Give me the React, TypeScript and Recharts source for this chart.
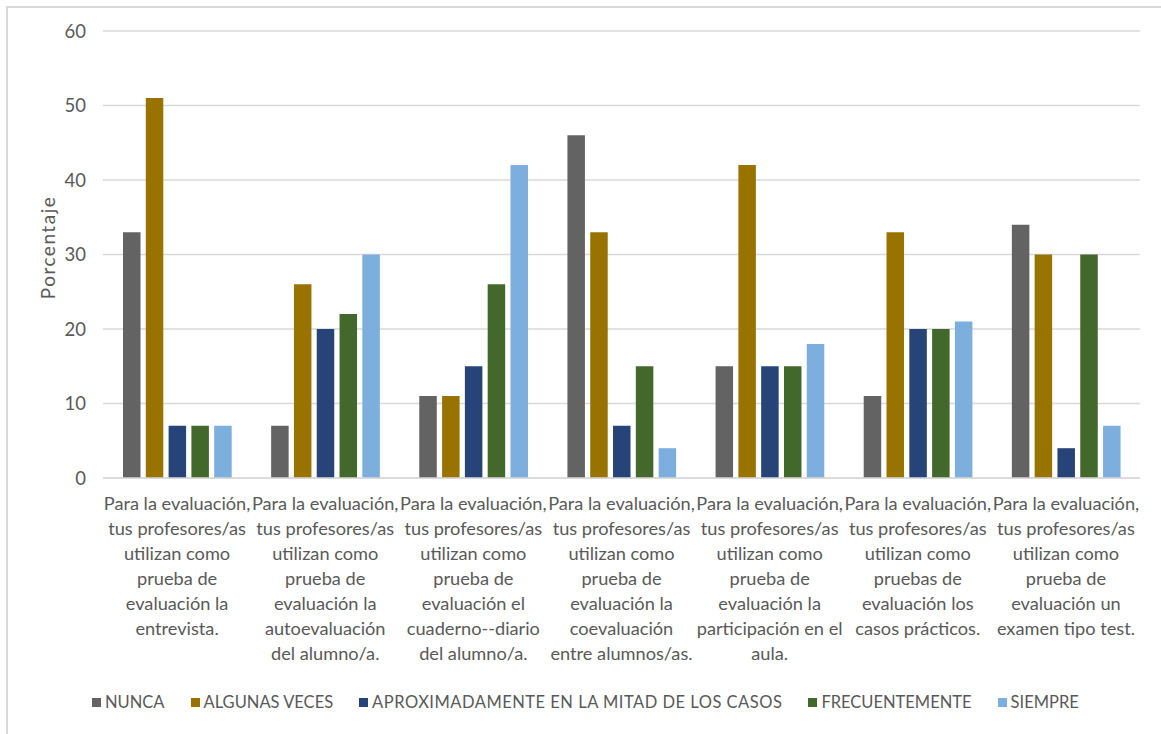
import React from 'react';
import { BarChart, Bar, XAxis, YAxis, CartesianGrid, Legend } from 'recharts';

// Category tick labels, one entry per line of text
const categoryLines: string[][] = [
  ['Para la evaluación,', 'tus profesores/as', 'utilizan como', 'prueba de', 'evaluación la', 'entrevista.'],
  ['Para la evaluación,', 'tus profesores/as', 'utilizan como', 'prueba de', 'evaluación la', 'autoevaluación', 'del alumno/a.'],
  ['Para la evaluación,', 'tus profesores/as', 'utilizan como', 'prueba de', 'evaluación el', 'cuaderno--diario', 'del alumno/a.'],
  ['Para la evaluación,', 'tus profesores/as', 'utilizan como', 'prueba de', 'evaluación la', 'coevaluación', 'entre alumnos/as.'],
  ['Para la evaluación,', 'tus profesores/as', 'utilizan como', 'prueba de', 'evaluación la', 'participación en el', 'aula.'],
  ['Para la evaluación,', 'tus profesores/as', 'utilizan como', 'pruebas de', 'evaluación los', 'casos prácticos.'],
  ['Para la evaluación,', 'tus profesores/as', 'utilizan como', 'prueba de', 'evaluación un', 'examen tipo test.'],
];

const seriesNames = [
  'NUNCA',
  'ALGUNAS VECES',
  'APROXIMADAMENTE EN LA MITAD DE LOS CASOS',
  'FRECUENTEMENTE',
  'SIEMPRE',
];
const seriesColors = ['#636363', '#997300', '#264478', '#43682B', '#7CAFDD'];

const nunca = [33, 7, 11, 46, 15, 11, 34];
const algunasVeces = [51, 26, 11, 33, 42, 33, 30];
const mitadCasos = [7, 20, 15, 7, 15, 20, 4];
const frecuentemente = [7, 22, 26, 15, 15, 20, 30];
const siempre = [7, 30, 42, 4, 18, 21, 7];

const yTicks = [0, 10, 20, 30, 40, 50, 60];

const seriesValues = [nunca, algunasVeces, mitadCasos, frecuentemente, siempre];

const data = categoryLines.map((lines, i) => {
  const row: Record<string, string | number> = { category: lines.join(' ') };
  seriesNames.forEach((name, s) => {
    row[name] = seriesValues[s][i];
  });
  return row;
});

const FONT = 'Lato, "Open Sans", sans-serif';
const TEXT = '#595959';

const CategoryTick = (props: any) => {
  const { x, y, payload } = props;
  const lines = categoryLines[payload.index] || [];
  return (
    <text x={x} y={y} textAnchor="middle" fill={TEXT} fontSize={18.2} fontFamily={FONT}>
      {lines.map((line, i) => (
        <tspan key={i} x={x} dy={i === 0 ? 32 : 25}>
          {line}
        </tspan>
      ))}
    </text>
  );
};

const LegendContent = () => (
  <div
    style={{
      display: 'flex',
      alignItems: 'center',
      height: 30,
      paddingLeft: 92,
      fontFamily: FONT,
      fontSize: 16.5,
      color: TEXT,
      whiteSpace: 'nowrap',
    }}
  >
    {seriesNames.map((name, i) => (
      <div key={name} style={{ display: 'flex', alignItems: 'center', marginRight: 26 }}>
        <span style={{ width: 9, height: 9, background: seriesColors[i], marginRight: 4, display: 'inline-block' }} />
        <span style={{ letterSpacing: i === 2 ? 0.5 : 0 }}>{name}</span>
      </div>
    ))}
  </div>
);

export default function App() {
  return (
    <div style={{ position: 'fixed', left: 0, top: 0, width: 1161, height: 734, background: '#fff', overflow: 'hidden' }}>
      <div
        style={{
          position: 'absolute',
          left: 6,
          top: 6,
          width: 1200,
          height: 800,
          border: '2px solid #d9d9d9',
          boxSizing: 'border-box',
        }}
      />
      <div style={{ position: 'absolute', left: 0, top: 0 }}>
        <BarChart
          width={1161}
          height={734}
          data={data}
          margin={{ top: 31, right: 21, bottom: 17, left: 0 }}
          barSize={17.5}
          barGap={5.3}
        >
          <CartesianGrid vertical={false} stroke="#d9d9d9" strokeWidth={1.5} />
          <XAxis
            dataKey="category"
            height={209}
            interval={0}
            tickLine={false}
            tickSize={0}
            tickMargin={0}
            axisLine={{ stroke: '#d9d9d9', strokeWidth: 1.5 }}
            tick={<CategoryTick />}
          />
          <YAxis
            width={103}
            domain={[0, 60]}
            ticks={yTicks}
            axisLine={false}
            tickLine={false}
            tickSize={0}
            tickMargin={17}
            tick={{ fill: TEXT, fontSize: 18.5, fontFamily: FONT }}
            label={{
              value: 'Porcentaje',
              angle: -90,
              position: 'insideLeft',
              offset: 48,
              dy: -7,
              style: { fill: TEXT, fontSize: 19, letterSpacing: 1.5, fontFamily: FONT, textAnchor: 'middle' },
            }}
          />
          <Legend verticalAlign="bottom" align="left" height={30} content={<LegendContent />} />
          {seriesNames.map((name, i) => (
            <Bar key={name} dataKey={name} fill={seriesColors[i]} isAnimationActive={false} />
          ))}
        </BarChart>
      </div>
    </div>
  );
}
